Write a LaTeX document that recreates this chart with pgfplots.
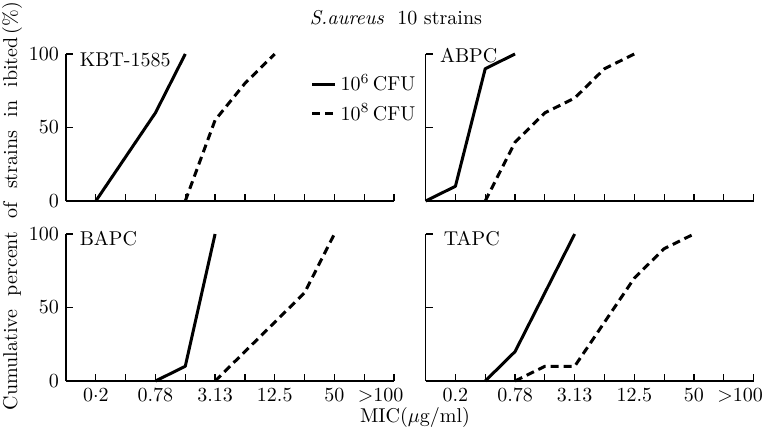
\documentclass[border=0pt]{standalone}
\usepackage{pgfplots}
\pgfplotsset{compat=1.18}
\begin{document}
\begin{tikzpicture}[x=1pt,y=1pt]
\path[use as bounding box] (0,0) rectangle (384,215);
\pgfplotsset{
  mic/.style={
    scale only axis, width=164pt, height=73.5pt,
    xmin=0, xmax=11, ymin=0, ymax=100,
    axis x line*=bottom, axis y line*=left,
    axis line style={line width=0.7pt},
    xtick={1,...,11}, ytick={0,50,100},
    tick align=inside, major tick length=3.5pt,
    tick style={line width=0.6pt, black},
    clip=false, anchor=south west,
    xticklabels={}, yticklabels={},
    every axis plot/.append style={line width=1.5pt, black, line join=round},
  },
  cfu6/.style={solid, mark=none},
  cfu8/.style={dash pattern=on 4pt off 2.5pt, mark=none},
  leftlabels/.style={yticklabels={0,50,100}},
  bottomlabels/.style={
    xticklabels={#1,,0.78,,3.13,,12.5,,50,,},
    extra x ticks={10.55}, extra x tick labels={$>$100},
    extra x tick style={major tick length=0pt},
  },
}

% KBT-1585
\begin{axis}[mic, leftlabels, at={(33pt,114.5pt)},
  legend style={at={(axis cs:8.2,89)}, anchor=north west, draw=none, fill=none,
    font=\normalsize, row sep=1pt, inner sep=0pt},
  legend cell align=left,
  legend image code/.code={\draw[#1, line width=1.3pt] (0pt,0pt) -- (11.5pt,0pt);}]
\addplot[cfu6] coordinates {(1,0) (2,30) (3,60) (4,100)};
\addlegendentry{10$^6$\,CFU}
\addplot[cfu8] coordinates {(4,0) (5,55) (6,80) (7,100)};
\addlegendentry{10$^8$\,CFU}
\node[anchor=west, inner sep=0pt] at (axis cs:0.45,96) {KBT-1585};
\end{axis}

% ABPC
\begin{axis}[mic, at={(212.8pt,114.5pt)}]
\addplot[cfu6] coordinates {(0,0) (1,10) (2,90) (3,100)};
\addplot[cfu8] coordinates {(2,0) (3,40) (4,60) (5,70) (6,90) (7,100)};
\node[anchor=west, inner sep=0pt] at (axis cs:0.47,99) {ABPC};
\end{axis}

% BAPC
\begin{axis}[mic, leftlabels, bottomlabels={0$\cdot$2}, at={(33pt,24.5pt)}]
\addplot[cfu6] coordinates {(3,0) (4,10) (5,100)};
\addplot[cfu8] coordinates {(5,0) (8,60) (9,100)};
\node[anchor=west, inner sep=0pt] at (axis cs:0.45,97) {BAPC};
\end{axis}

% TAPC
\begin{axis}[mic, bottomlabels={0.2}, at={(212.8pt,24.5pt)}]
\addplot[cfu6] coordinates {(2,0) (3,20) (5,100)};
\addplot[cfu8] coordinates {(3,0) (4,10) (5,10) (6,40) (7,70) (8,90) (9,100)};
\node[anchor=west, inner sep=0pt] at (axis cs:0.6,97) {TAPC};
\end{axis}

% figure title and shared axis labels
\node at (198,206) {\textit{S.aureus}\ \ 10 strains};
\node[rotate=90] at (6,112) {Cumulative\ \ percent\ \ of\ \ strains\ \ in\ \ ibited\,(\%)};
\node at (207.5,6.5) {MIC($\mu$g/ml)};
\end{tikzpicture}
\end{document}
